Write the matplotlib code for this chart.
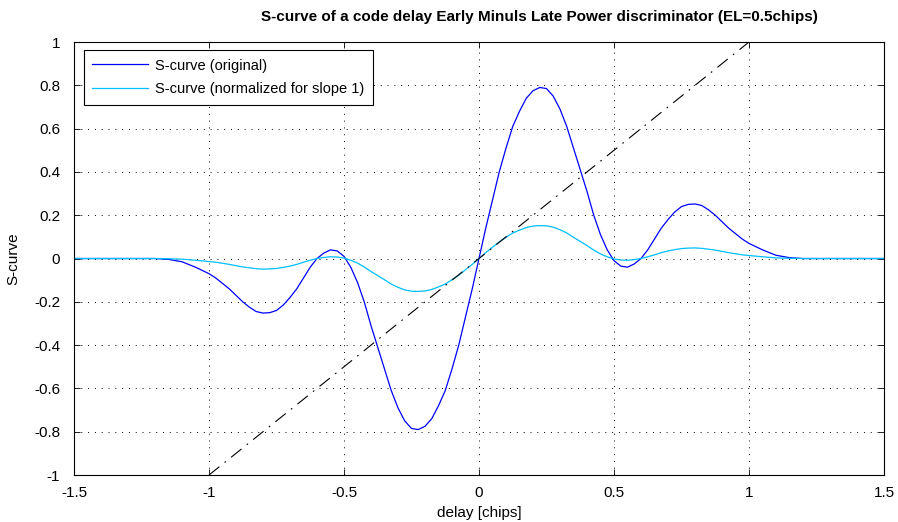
import matplotlib
matplotlib.use("Agg")
import matplotlib.pyplot as plt

#---------------------------------------------------------------------------------
# S-curve samples (delay in chips)

delay = [-1.5, -1.2, -1.15, -1.1, -1.05, -1.0, -0.975, -0.95, -0.925, -0.9, -0.875, -0.85, -0.825,
         -0.8, -0.775, -0.75, -0.725, -0.7, -0.675, -0.65, -0.625, -0.6, -0.575, -0.55, -0.525,
         -0.5, -0.475, -0.45, -0.425, -0.4, -0.375, -0.35, -0.325, -0.3, -0.275, -0.25, -0.225,
         -0.2, -0.175, -0.15, -0.125, -0.1, -0.075, -0.05, -0.025, 0.0,
         0.025, 0.05, 0.075, 0.1, 0.125, 0.15, 0.175, 0.2, 0.225, 0.25, 0.275, 0.3, 0.325,
         0.35, 0.375, 0.4, 0.425, 0.45, 0.475, 0.5, 0.525, 0.55, 0.575, 0.6, 0.625, 0.65,
         0.675, 0.7, 0.725, 0.75, 0.775, 0.8, 0.825, 0.85, 0.875, 0.9, 0.925, 0.95, 0.975,
         1.0, 1.05, 1.1, 1.15, 1.2, 1.5]

s_orig = [0.0, 0.0, -0.004, -0.015, -0.04, -0.07, -0.09, -0.115, -0.14, -0.17, -0.20, -0.225, -0.245,
          -0.252, -0.25, -0.24, -0.215, -0.18, -0.14, -0.09, -0.04, 0.0, 0.025, 0.04, 0.035,
          0.01, -0.04, -0.11, -0.20, -0.31, -0.41, -0.51, -0.61, -0.69, -0.75, -0.785, -0.79,
          -0.775, -0.74, -0.68, -0.61, -0.51, -0.40, -0.27, -0.14, 0.0,
          0.14, 0.27, 0.40, 0.51, 0.61, 0.68, 0.74, 0.775, 0.79, 0.785, 0.75, 0.69, 0.61,
          0.51, 0.41, 0.31, 0.20, 0.11, 0.04, -0.01, -0.035, -0.04, -0.025, 0.0, 0.04, 0.09,
          0.14, 0.18, 0.215, 0.24, 0.25, 0.252, 0.245, 0.225, 0.20, 0.17, 0.14, 0.115, 0.09,
          0.07, 0.04, 0.015, 0.004, 0.0, 0.0]

s_norm = [0.0, 0.0, -0.001, -0.003, -0.008, -0.014, -0.017, -0.022, -0.027, -0.033, -0.039, -0.043, -0.047,
          -0.049, -0.048, -0.046, -0.041, -0.035, -0.027, -0.017, -0.008, 0.0, 0.005, 0.008, 0.007,
          0.002, -0.008, -0.021, -0.039, -0.060, -0.079, -0.098, -0.118, -0.133, -0.145, -0.151, -0.152,
          -0.150, -0.143, -0.131, -0.118, -0.098, -0.077, -0.052, -0.027, 0.0,
          0.027, 0.052, 0.077, 0.098, 0.118, 0.131, 0.143, 0.150, 0.152, 0.151, 0.145, 0.133, 0.118,
          0.098, 0.079, 0.060, 0.039, 0.021, 0.008, -0.002, -0.007, -0.008, -0.005, 0.0, 0.008, 0.017,
          0.027, 0.035, 0.041, 0.046, 0.048, 0.049, 0.047, 0.043, 0.039, 0.033, 0.027, 0.022, 0.017,
          0.014, 0.008, 0.003, 0.001, 0.0, 0.0]

ref_x = [-1.0, 1.0]                     # reta de inclinação unitária
ref_y = [-1.0, 1.0]

xticks = [-1.5, -1, -0.5, 0, 0.5, 1, 1.5]
yticks = [-1, -0.8, -0.6, -0.4, -0.2, 0, 0.2, 0.4, 0.6, 0.8, 1]
xtick_labels = ['-1.5', '-1', '-0.5', '0', '0.5', '1', '1.5']
ytick_labels = ['-1', '-0.8', '-0.6', '-0.4', '-0.2', '0', '0.2', '0.4', '0.6', '0.8', '1']

plt.rcParams['font.family'] = ['Liberation Sans', 'DejaVu Sans']

#---------------------------------------------------------------------------------
# Plot

fig = plt.figure(figsize=(8.98, 5.22), dpi=100)
ax = fig.add_axes([0.0824, 0.090, 0.9020, 0.8295])

ax.plot(delay, s_orig, color=(0.0, 0.0, 1.0), lw=0.9, label="S-curve (original)")
ax.plot(delay, s_norm, color=(0.0, 0.75, 1.0), lw=0.9, label="S-curve (normalized for slope 1)")
ax.plot(ref_x, ref_y, color='black', lw=0.8, linestyle=(0, (12, 6, 1.5, 6)))

ax.set_xlim(-1.5, 1.5)
ax.set_ylim(-1, 1)
ax.set_xticks(xticks)
ax.set_yticks(yticks)
ax.set_xticklabels(xtick_labels)
ax.set_yticklabels(ytick_labels)
ax.tick_params(direction='in', length=4, width=0.6, labelsize=11, top=True, right=True)
ax.tick_params(axis='x', pad=8)
ax.tick_params(axis='y', pad=10)
ax.grid(True, color='black', linestyle=(0, (1, 6)), lw=0.7)
for sp in ax.spines.values():
    sp.set_linewidth(0.8)

ax.set_title('S-curve of a code delay Early Minuls Late Power discriminator (EL=0.5chips)',
             fontsize=11, fontweight='bold', x=0.575, pad=15)
ax.set_xlabel('delay [chips]', fontsize=11, labelpad=4)
ax.set_ylabel('S-curve', fontsize=11, labelpad=10)

leg = ax.legend(loc='upper left', bbox_to_anchor=(0.012, 0.982), fontsize=10.5, fancybox=False,
                framealpha=1, edgecolor='black', handlelength=3.8, borderpad=0.6,
                labelspacing=0.65, handletextpad=0.5, borderaxespad=0)
leg.get_frame().set_linewidth(0.8)

fig.savefig("out.png", dpi=100)
